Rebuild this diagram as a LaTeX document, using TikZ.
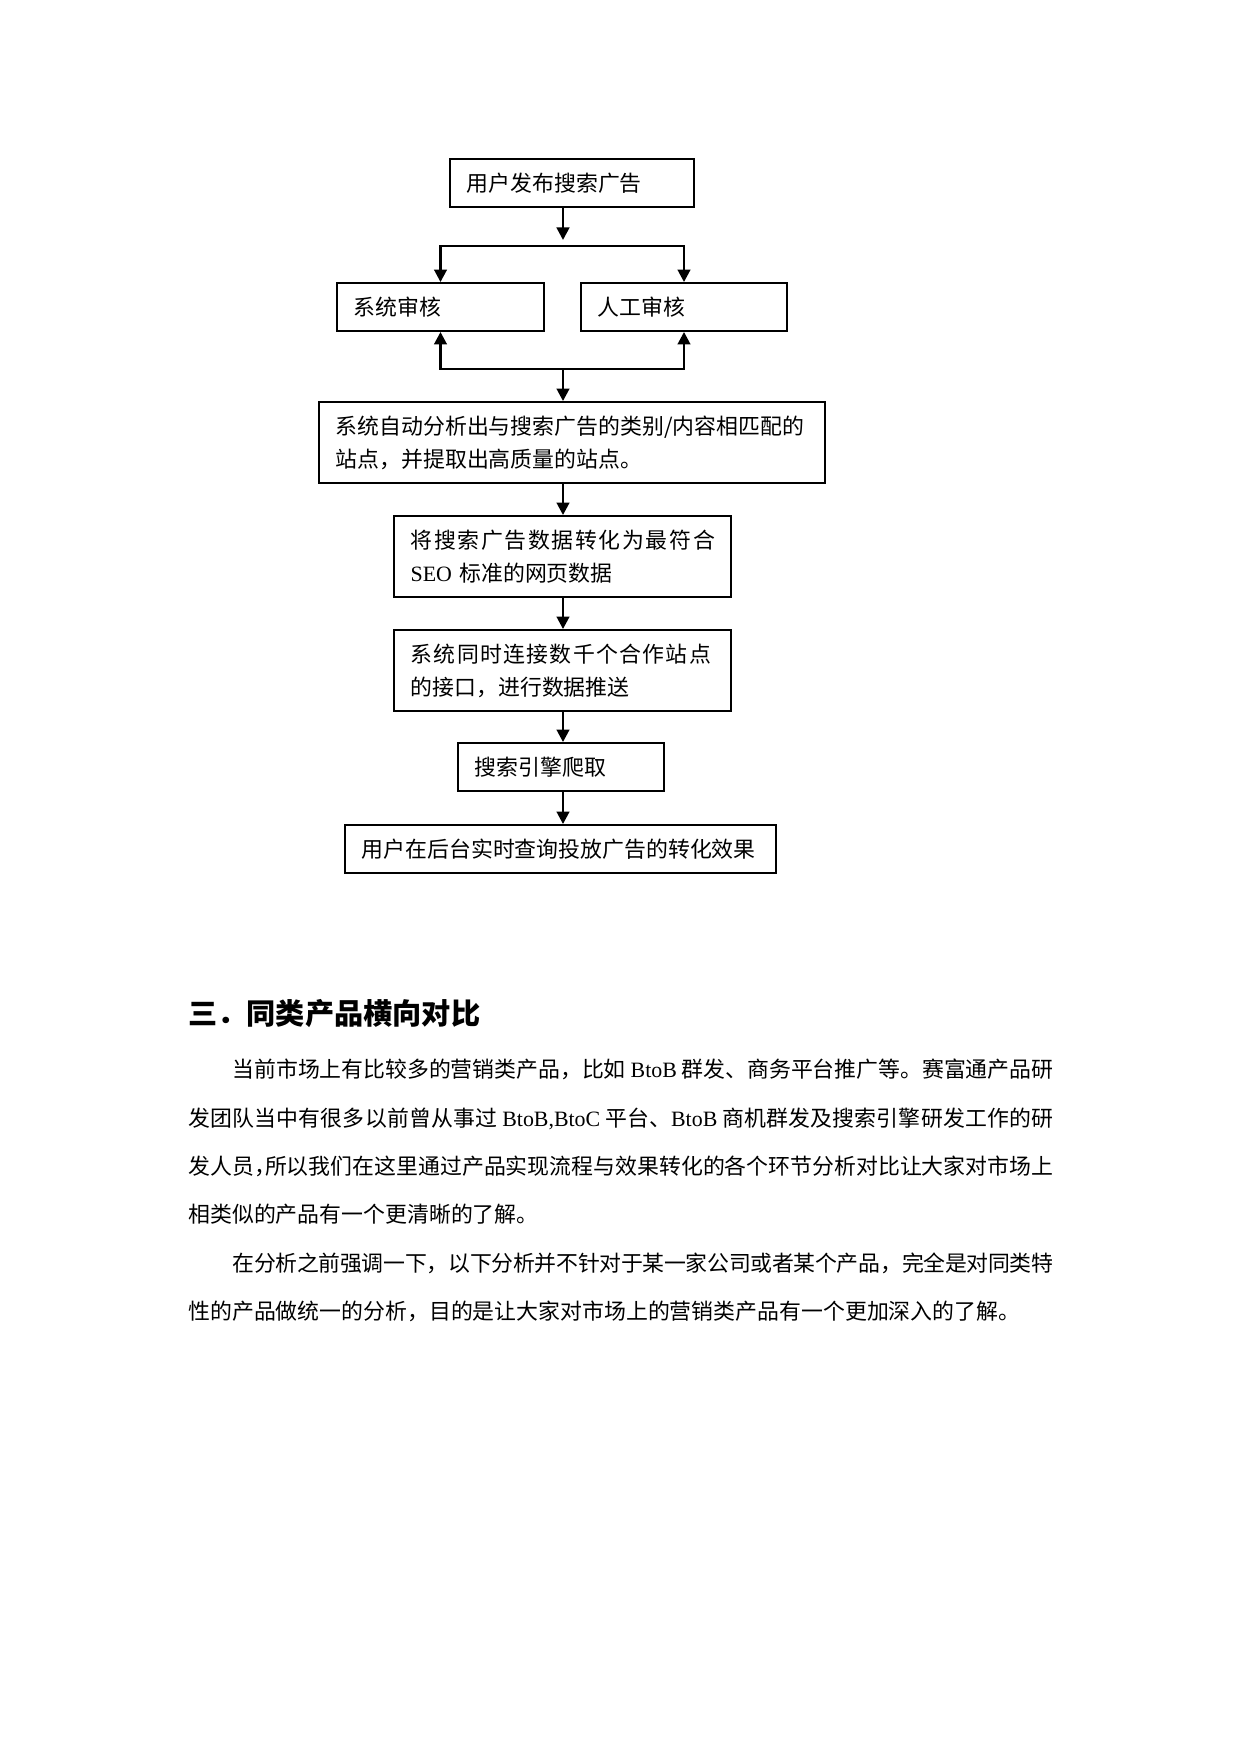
\documentclass[tikz,border=0pt]{standalone}
\usepackage{fontspec}
\setmainfont{Noto Sans CJK SC}
\newfontfamily\lat{Liberation Serif}
\newfontfamily\cjkls[LetterSpace=6]{Noto Sans CJK SC}
\newfontfamily\cjklt[LetterSpace=7.5]{Noto Sans CJK SC}
\usetikzlibrary{arrows.meta}
\newcommand\boxfont{\fontsize{10.5pt}{15.8pt}\selectfont}
\newcommand\parafont{\fontsize{10.5pt}{12pt}\selectfont}
\newcommand\jl[2]{\parbox[b]{#1}{\XeTeXlinebreaklocale "zh"\XeTeXlinebreakskip=0pt plus 3pt minus 0.4pt\relax\parfillskip=0pt\relax\tolerance=9000\relax #2}}
\newcommand\hc{\makebox[0.5em][l]{，}}
\begin{document}
\begin{tikzpicture}[x=0.47968pt,y=-0.47968pt,
  box/.style={draw, line width=0.9pt, inner xsep=8pt, inner ysep=0pt, align=left, font=\boxfont, minimum height=23.02pt},
  tall/.style={minimum height=38.85pt},
  conn/.style={line width=1.3pt},
  arr/.style={conn, -{Triangle[length=6pt,width=6pt]}},
  both/.style={conn, {Triangle[length=6pt,width=6pt]}-{Triangle[length=6pt,width=6pt]}},
  para/.style={anchor=base west, inner sep=0pt, font=\parafont},
]
\path[use as bounding box] (0,0) rectangle (1241,1754);

% flow boxes
\node[box, text width=101.04pt] (top) at (572,183) {用户发布搜索广告};
\node[box, text width=83.29pt] (sys) at (440.5,307) {系统审核};
\node[box, text width=82.81pt] (man) at (684,307) {人工审核};
\node[box, tall, text width=226.72pt] (ana) at (572,442.5) {系统自动分析出与搜索广告的类别/内容相匹配的\\站点，并提取出高质量的站点。};
\node[box, tall, text width=145.65pt] (conv) at (562.5,556.5) {{\cjklt 将搜索广告数据转化为最符合}\\{\lat SEO} 标准的网页数据};
\node[box, tall, text width=145.65pt] (push) at (562.5,670.5) {{\cjkls 系统同时连接数千个合作站点}\\的接口，进行数据推送};
\node[box, text width=82.81pt] (crawl) at (561,767) {搜索引擎爬取};
\node[box, text width=190.74pt] (query) at (560.5,849) {用户在后台实时查询投放广告的转化效果};

% connectors
\coordinate (sp) at (563,0);
\coordinate (t1) at (563,240);
\coordinate (j1) at (563,246);
\coordinate (j2) at (563,369);
\draw[arr] (top.south -| sp) -- (t1);
\draw[both] (sys.north) -- (sys.north |- j1) -- (man.north |- j1) -- (man.north);
\draw[both] (sys.south) -- (sys.south |- j2) -- (man.south |- j2) -- (man.south);
\draw[arr] (j2) -- (ana.north -| j2);
\draw[arr] (ana.south -| sp) -- (conv.north -| sp);
\draw[arr] (conv.south -| sp) -- (push.north -| sp);
\draw[arr] (push.south -| sp) -- (crawl.north -| sp);
\draw[arr] (crawl.south -| sp) -- (query.north -| sp);

% heading
\node[anchor=base west, inner sep=0pt, font={\fontsize{14pt}{16pt}\selectfont\bfseries}] (head) at (188,1024) {三．同类产品横向对比};

% paragraph 1
\node[para] (p1a) at (232,1077) {\jl{393.8pt}{当前市场上有比较多的营销类产品，比如 {\lat BtoB} 群发、商务平台推广等。赛富通产品研}};
\node[para] (p1b) at (188,1126) {\jl{414.9pt}{发团队当中有很多以前曾从事过 {\lat BtoB,BtoC} 平台、{\lat BtoB} 商机群发及搜索引擎研发工作的研}};
\node[para] (p1c) at (188,1174) {\jl{414.9pt}{发人员\hc 所以我们在这里通过产品实现流程与效果转化的各个环节分析对比让大家对市场上}};
\node[para] (p1d) at (188,1222) {相类似的产品有一个更清晰的了解。};

% paragraph 2
\node[para] (p2a) at (232,1271) {\jl{393.8pt}{在分析之前强调一下，以下分析并不针对于某一家公司或者某个产品，完全是对同类特}};
\node[para] (p2b) at (188,1319) {性的产品做统一的分析，目的是让大家对市场上的营销类产品有一个更加深入的了解。};
\end{tikzpicture}
\end{document}
